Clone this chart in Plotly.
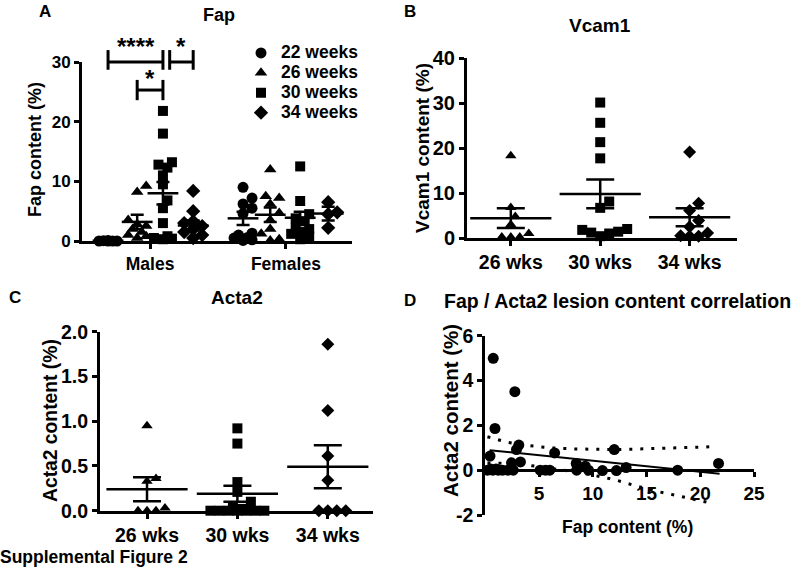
import numpy as np
import plotly.graph_objects as go

W, H = 796, 568
FONT = "Liberation Sans, Arial, sans-serif"

# ---------------- Panel A: Fap ----------------
weeks = ["22 weeks", "26 weeks", "30 weeks", "34 weeks"]
sexes = ["Males", "Females"]
fap_males_22 = [0.0, 0.0, 0.1, 0.0, 0.05, 0.0]
fap_males_26 = [8.2, 9.2, 3.5, 2.8, 2.0, 1.5, 1.0, 0.8, 0.5, 2.5]
fap_males_30 = [21.8, 18.0, 13.2, 12.3, 11.0, 9.5, 6.8, 5.5, 3.0, 0.5, 0.3, 0.8, 0.4, 12.8]
fap_males_34 = [8.4, 5.0, 3.3, 3.0, 2.5, 1.5, 1.0, 0.5, 2.0]
fap_females_22 = [9.0, 7.2, 6.2, 5.5, 4.6, 1.3, 1.0, 0.6, 0.2, 0.1, 0.5]
fap_females_26 = [12.0, 7.5, 7.2, 6.2, 4.7, 3.5, 2.0, 1.2, 0.3, 0.1]
fap_females_30 = [12.5, 6.7, 4.5, 3.8, 3.3, 2.2, 2.0, 1.5, 0.8, 0.3, 1.2]
fap_females_34 = [6.5, 4.8, 4.5, 2.2]
fap_mean_males = [0.05, 3.2, 8.0, 2.6]
fap_sem_males = [0.02, 1.2, 1.9, 0.85]
fap_mean_females = [3.8, 4.4, 3.9, 4.6]
fap_sem_females = [1.1, 1.2, 1.0, 1.15]
sig_labels = ["****", "*", "*"]

# ---------------- Panel B: Vcam1 ----------------
wks_labels = ["26 wks", "30 wks", "34 wks"]
vcam_26 = [18.3, 6.8, 4.8, 3.0, 1.0, 0.2, 0.2, 0.2]
vcam_30 = [30.1, 25.6, 21.3, 17.7, 8.1, 6.7, 1.8, 1.2, 0.4, 1.0, 1.4, 2.0]
vcam_34 = [19.1, 7.7, 6.1, 3.9, 2.5, 0.4, 0.4, 0.5, 1.1]
vcam_mean = [4.4, 9.8, 4.6]
vcam_sem = [2.2, 3.2, 2.0]

# ---------------- Panel C: Acta2 ----------------
acta_26 = [0.95, 0.36, 0.33, 0.0, 0.0, 0.0, 0.03]
acta_30 = [0.92, 0.75, 0.32, 0.21, 0.10, 0.05, 0.02, 0.0, 0.0, 0.0, 0.0, 0.0, 0.0, 0.0]
acta_34 = [1.86, 1.12, 0.61, 0.34, 0.0, 0.0, 0.0, 0.0]
acta_mean = [0.24, 0.19, 0.49]
acta_sem = [0.135, 0.09, 0.24]

# ---------------- Panel D: correlation ----------------
corr_fap = [0.74, 0.9, 2.75, 0.44, 3.12, 2.9, 3.27, 2.44, 6.45, 12.0, 21.7, 8.46, 9.3,
            13.1, 17.9, 10.9, 12.2, 9.6, 8.5, 5.1, 5.6, 6.0, 0.2, 0.7, 1.2, 1.6, 2.1,
            2.6, 0.5, 1.0]
corr_acta = [4.99, 1.86, 3.5, 0.63, 1.12, 0.92, 0.37, 0.33, 0.77, 0.92, 0.3, 0.3, 0.18,
             0.12, 0.0, -0.02, -0.02, 0.0, 0.0, 0.0, 0.0, 0.0, 0.0, 0.0, 0.0, 0.0, 0.0,
             0.0, 0.05, 0.05]
fit_slope = -0.049
fit_intercept = 0.91
fit_x = [0.4, 21.8]
band_x = [0.2, 2, 4, 6, 8, 10, 12, 14, 16, 18, 20, 21.3]
band_upper = [1.49, 1.25, 1.1, 1.0, 0.95, 0.92, 0.92, 0.94, 0.97, 1.0, 1.03, 1.05]
band_lower = [0.32, 0.3, 0.22, 0.1, -0.05, -0.22, -0.42, -0.7, -0.95, -1.15, -1.35, -1.5]


def px_x(p):
    return p / W


def px_y(p):
    return 1 - p / H


def swarm(values, center, ppx, ppy, d, maxw):
    vals = np.asarray(values, dtype=float)
    order = np.argsort(vals, kind="stable")
    placed = []
    offs = np.zeros(len(vals))
    step = d * 0.5
    cands = [0.0]
    k = 1
    while k * step <= maxw:
        cands += [k * step, -k * step]
        k += 1
    for i in order:
        y = vals[i] * ppy
        best = None
        for c in cands:
            if all((c - a) ** 2 + (y - b) ** 2 >= (d * 0.95) ** 2 for a, b in placed):
                best = c
                break
        if best is None:
            best = max(cands, key=lambda c: min((c - a) ** 2 + (y - b) ** 2 for a, b in placed))
        placed.append((best, y))
        offs[i] = best
    return list(center + offs / ppx)


fig = go.Figure()
symbols = ["circle", "triangle-up", "square", "diamond"]
sizes = [11, 11, 10, 11]

# ----- Panel A -----
A_ppx, A_ppy = 28.0, 5.95
male_pos = [0, 1.04, 1.96, 3.04]
female_pos = [4.82, 5.79, 6.86, 7.86]
males = [fap_males_22, fap_males_26, fap_males_30, fap_males_34]
females = [fap_females_22, fap_females_26, fap_females_30, fap_females_34]
for i in range(4):
    xs = swarm(males[i], male_pos[i], A_ppx, A_ppy, 9, 12) + swarm(females[i], female_pos[i], A_ppx, A_ppy, 9, 12)
    ys = males[i] + females[i]
    fig.add_trace(go.Scatter(
        x=xs, y=ys, mode="markers", xaxis="x", yaxis="y", cliponaxis=False,
        name="<span style='font-size:17.5px'>" + weeks[i] + "</span>",
        marker=dict(symbol=symbols[i], size=sizes[i], color="black", line=dict(width=0)),
    ))
fig.add_trace(go.Scatter(
    x=male_pos + female_pos, y=fap_mean_males + fap_mean_females, mode="markers",
    xaxis="x", yaxis="y", cliponaxis=False, showlegend=False,
    marker=dict(symbol="line-ew", size=22, color="black", line=dict(width=2.5, color="black")),
    error_y=dict(type="data", array=fap_sem_males + fap_sem_females, width=6.5, thickness=2.5, color="black"),
))

# ----- Panel B -----
B_ppx, B_ppy = 89.5, 4.5
vcam = [vcam_26, vcam_30, vcam_34]
bsym = ["triangle-up", "square", "diamond"]
bsize = [10, 10, 10]
for i in range(3):
    fig.add_trace(go.Scatter(
        x=swarm(vcam[i], i, B_ppx, B_ppy, 9, 30), y=vcam[i], mode="markers",
        xaxis="x2", yaxis="y2", cliponaxis=False, showlegend=False,
        marker=dict(symbol=bsym[i], size=bsize[i], color="black", line=dict(width=0)),
    ))
fig.add_trace(go.Scatter(
    x=[0, 1, 2], y=vcam_mean, mode="markers", xaxis="x2", yaxis="y2", cliponaxis=False, showlegend=False,
    marker=dict(symbol="line-ew", size=58, color="black", line=dict(width=2.5, color="black")),
    error_y=dict(type="data", array=vcam_sem, width=14, thickness=2.5, color="black"),
))

# ----- Panel C -----
C_ppx, C_ppy = 90.5, 89.5
acta = [acta_26, acta_30, acta_34]
for i in range(3):
    fig.add_trace(go.Scatter(
        x=swarm(acta[i], i, C_ppx, C_ppy, 9, 30), y=acta[i], mode="markers",
        xaxis="x3", yaxis="y3", cliponaxis=False, showlegend=False,
        marker=dict(symbol=bsym[i], size=bsize[i], color="black", line=dict(width=0)),
    ))
fig.add_trace(go.Scatter(
    x=[0, 1, 2], y=acta_mean, mode="markers", xaxis="x3", yaxis="y3", cliponaxis=False, showlegend=False,
    marker=dict(symbol="line-ew", size=58, color="black", line=dict(width=2.5, color="black")),
    error_y=dict(type="data", array=acta_sem, width=14, thickness=2.5, color="black"),
))

# ----- Panel D -----
fx = np.array(fit_x)
fig.add_trace(go.Scatter(x=band_x, y=band_upper, mode="lines", xaxis="x4", yaxis="y4", showlegend=False,
                         line=dict(color="black", width=3, dash="3px,8px")))
fig.add_trace(go.Scatter(x=band_x, y=band_lower, mode="lines", xaxis="x4", yaxis="y4", showlegend=False,
                         line=dict(color="black", width=3, dash="3px,8px")))
fig.add_trace(go.Scatter(x=fx, y=fit_intercept + fit_slope * fx, mode="lines", xaxis="x4", yaxis="y4",
                         showlegend=False, line=dict(color="black", width=2)))
fig.add_trace(go.Scatter(x=corr_fap, y=corr_acta, mode="markers", xaxis="x4", yaxis="y4", cliponaxis=False,
                         showlegend=False, marker=dict(symbol="circle", size=11, color="black")))


# ----- axes -----
def axis_common(fs):
    return dict(showline=True, linewidth=3, linecolor="black", ticks="outside", tickwidth=3,
                ticklen=5, tickcolor="black", showgrid=False, zeroline=False, automargin=False,
                tickfont=dict(size=fs, color="black", family=FONT, weight="bold"))


A_dom_y = [px_y(241), px_y(62)]
B_dom_y = [px_y(238), px_y(58)]
C_dom_y = [px_y(510.7), px_y(331.7)]
D_dom_y = [px_y(515), px_y(335.7)]
D_range_y = [-2, 6]
d_zero = D_dom_y[0] + (0 - D_range_y[0]) / (D_range_y[1] - D_range_y[0]) * (D_dom_y[1] - D_dom_y[0])

fig.update_layout(
    template="none",
    xaxis=dict(axis_common(17.5), domain=[px_x(82), px_x(352)], range=[-0.93, 8.71], anchor="y",
               tickvals=[1.5, 6.35], ticktext=sexes),
    yaxis=dict(axis_common(17), domain=A_dom_y, range=[0, 30], anchor="x", tickvals=[0, 10, 20, 30]),
    xaxis2=dict(axis_common(19.5), domain=[px_x(467), px_x(737)], range=[-0.49, 2.53], anchor="y2",
                tickvals=[0, 1, 2], ticktext=wks_labels),
    yaxis2=dict(axis_common(20), domain=B_dom_y, range=[0, 40], anchor="x2", tickvals=[0, 10, 20, 30, 40]),
    xaxis3=dict(axis_common(19.5), domain=[px_x(100), px_x(373)], range=[-0.52, 2.5], anchor="y3",
                tickvals=[0, 1, 2], ticktext=wks_labels),
    yaxis3=dict(axis_common(19.5), domain=C_dom_y, range=[0, 2], anchor="x3",
                tickvals=[0, 0.5, 1.0, 1.5, 2.0], ticktext=["0.0", "0.5", "1.0", "1.5", "2.0"]),
    xaxis4=dict(axis_common(19), domain=[px_x(485.3), px_x(754)], range=[0, 25], anchor="free",
                position=d_zero, tickvals=[5, 10, 15, 20, 25]),
    yaxis4=dict(axis_common(19.5), domain=D_dom_y, range=D_range_y, anchor="x4",
                tickvals=[-2, 0, 2, 4, 6], ticktext=["-2", "0", "2", "4", "6"]),
)


def y_paper(v, dom, rng):
    return dom[0] + (v - rng[0]) / (rng[1] - rng[0]) * (dom[1] - dom[0])


# significance brackets (panel A): x in data coords, y converted to paper
brackets = [(0, 1.96, 30.0, 32.0, 28.7), (2.2, 3.04, 30.0, 32.0, 28.7), (1.04, 1.96, 25.3, 27.0, 23.6)]
for (x0, x1, yb, yt, ybot) in brackets:
    yb_p = y_paper(yb, A_dom_y, [0, 30])
    yt_p = y_paper(yt, A_dom_y, [0, 30])
    ybot_p = y_paper(ybot, A_dom_y, [0, 30])
    for shp in [dict(x0=x0, x1=x1, y0=yb_p, y1=yb_p), dict(x0=x0, x1=x0, y0=ybot_p, y1=yt_p),
                dict(x0=x1, x1=x1, y0=ybot_p, y1=yt_p)]:
        fig.add_shape(type="line", xref="x", yref="paper", line=dict(color="black", width=3), **shp)
sig_y = [32.6, 32.6, 27.2]
for lab, (x0, x1, yb, yt, ybot), sy in zip(sig_labels, brackets, sig_y):
    fig.add_annotation(x=(x0 + x1) / 2, xref="x", y=y_paper(sy, A_dom_y, [0, 30]), yref="paper",
                       text=lab, showarrow=False, yanchor="middle",
                       font=dict(size=24, family=FONT, color="black", weight="bold"))


def ann(text, x, y, size=17, angle=0, xanchor="center"):
    fig.add_annotation(text=text, x=px_x(x), y=px_y(y), xref="paper", yref="paper", showarrow=False,
                       xanchor=xanchor, yanchor="middle", textangle=angle, borderpad=0,
                       font=dict(size=size, family=FONT, color="black", weight="bold"))


ann("A", 38, 11, xanchor="left")
ann("Fap", 219, 15, size=18)
ann("B", 403, 11, xanchor="left")
ann("Vcam1", 600, 25, size=19)
ann("C", 8, 297, xanchor="left")
ann("Acta2", 237, 297, size=19)
ann("D", 403, 300, xanchor="left")
ann("Fap / Acta2 lesion content correlation", 617, 301, size=19.5)
ann("Fap content (%)", 35, 150, size=18, angle=-90)
ann("Vcam1 content (%)", 422, 148, size=19, angle=-90)
ann("Acta2 content (%)", 50, 420, size=19.3, angle=-90)
ann("Acta2 content (%)", 450, 410, size=20.5, angle=-90)
ann("Fap content (%)", 627, 527, size=17.5)
ann("Supplemental Figure 2", -1, 557, size=17.5, xanchor="left")

fig.update_layout(
    width=W, height=H, margin=dict(l=0, r=0, t=0, b=0, pad=0, autoexpand=False),
    paper_bgcolor="white", plot_bgcolor="white",
    font=dict(family=FONT, size=17, color="black", weight="bold"),
    showlegend=True,
    legend=dict(x=px_x(241), y=px_y(38), xanchor="left", yanchor="top", bgcolor="rgba(0,0,0,0)",
                borderwidth=0,
                font=dict(size=13, family=FONT, color="black", weight="bold"), tracegroupgap=0,
                itemsizing="trace"),
)

fig.write_html("out.html", config={"displayModeBar": False},
               post_script="document.body.style.margin='0';document.body.style.padding='0';"
                           "document.documentElement.style.overflow='hidden';")
